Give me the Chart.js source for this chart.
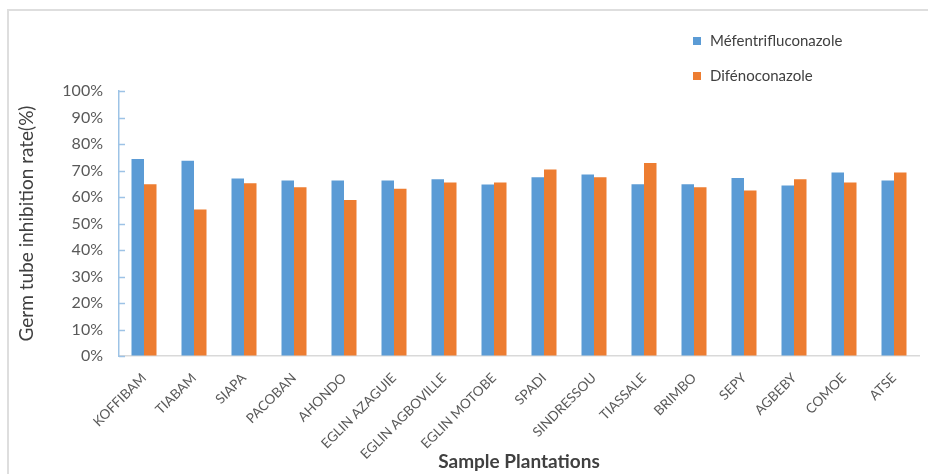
<!DOCTYPE html>
<html>
<head>
<meta charset="utf-8">
<script src="https://cdn.jsdelivr.net/npm/chart.js@4"></script>
<style>
  body { margin: 0; background: #fff; }
  #wrap { width: 928px; height: 474px; }
</style>
</head>
<body>
<div id="wrap"><canvas id="chart" width="928" height="474"></canvas></div>
<script>
const plantations = ["KOFFIBAM", "TIABAM", "SIAPA", "PACOBAN", "AHONDO", "EGLIN AZAGUIE",
    "EGLIN AGBOVILLE", "EGLIN MOTOBE", "SPADI", "SINDRESSOU", "TIASSALE", "BRIMBO",
    "SEPY", "AGBEBY", "COMOE", "ATSE"];
const mefentrifluconazole = [74.3, 73.7, 67.0, 66.2, 66.2, 66.2, 66.7, 64.7, 67.5, 68.5, 64.8, 64.8, 67.2, 64.3, 69.2, 66.2];
const difenoconazole = [64.8, 55.3, 65.2, 63.7, 58.9, 63.1, 65.5, 65.5, 70.4, 67.5, 72.8, 63.7, 62.5, 66.7, 65.5, 69.2];
const yTicks = [0, 10, 20, 30, 40, 50, 60, 70, 80, 90, 100];

const FONT = "Lato, 'Open Sans', sans-serif";

// outer frame + legend on the right + small inner y tick marks
const decorations = {
    id: "decorations",
    beforeDraw(chart) {
        const ctx = chart.ctx;
        ctx.save();
        ctx.strokeStyle = "#dedede";
        ctx.lineWidth = 2;
        ctx.beginPath();
        ctx.moveTo(8, 474);
        ctx.lineTo(8, 10);
        ctx.lineTo(928, 10);
        ctx.stroke();
        ctx.restore();
    },
    afterDraw(chart) {
        const ctx = chart.ctx;
        const y = chart.scales.y;
        ctx.save();
        ctx.strokeStyle = "#9dc3e6";
        ctx.lineWidth = 1.5;
        y.ticks.forEach((t) => {
            const py = Math.round(y.getPixelForValue(t.value)) + 0.5;
            ctx.beginPath();
            ctx.moveTo(y.right, py);
            ctx.lineTo(y.right + 6, py);
            ctx.stroke();
        });

        ctx.font = "15px " + FONT;
        ctx.textBaseline = "middle";
        chart.data.datasets.forEach((ds, i) => {
            const cy = 41 + i * 35;
            ctx.fillStyle = ds.backgroundColor;
            ctx.fillRect(693, cy - 4, 8, 8);
            ctx.fillStyle = "#404040";
            ctx.fillText(ds.label, 710, cy);
        });
        ctx.restore();
    }
};

new Chart(document.getElementById("chart"), {
    type: "bar",
    data: {
        labels: plantations,
        datasets: [
            { label: "Méfentrifluconazole", data: mefentrifluconazole, backgroundColor: "#5b9bd5" },
            { label: "Difénoconazole", data: difenoconazole, backgroundColor: "#ed7d31" }
        ]
    },
    options: {
        responsive: false,
        animation: false,
        layout: { padding: { left: 0, right: 9, top: 91, bottom: 0 } },
        datasets: { bar: { categoryPercentage: 0.5, barPercentage: 1.0 } },
        plugins: { legend: { display: false }, tooltip: { enabled: false } },
        scales: {
            x: {
                grid: { drawOnChartArea: false, drawTicks: false },
                border: { color: "#d9d9d9", width: 1.5 },
                ticks: {
                    color: "#595959",
                    font: { family: FONT, size: 13.5 },
                    minRotation: 45,
                    maxRotation: 45,
                    autoSkip: false,
                    padding: 14
                },
                title: {
                    display: true,
                    text: "Sample Plantations",
                    color: "#404040",
                    font: { family: FONT, size: 19, weight: "bold" },
                    padding: { top: 0, bottom: 1 }
                },
                afterFit(scale) { scale.height = 118; }
            },
            y: {
                min: 0,
                max: 100,
                afterBuildTicks(scale) { scale.ticks = yTicks.map((v) => ({ value: v })); },
                grid: { drawOnChartArea: false, drawTicks: false },
                border: { color: "#9dc3e6", width: 1.5 },
                ticks: {
                    color: "#595959",
                    font: { family: FONT, size: 16 },
                    padding: 16,
                    callback: (v) => v + "%"
                },
                title: {
                    display: true,
                    text: "Germ tube inhibition rate(%)",
                    color: "#404040",
                    font: { family: FONT, size: 19 },
                    padding: { top: 15, bottom: 0 }
                },
                afterFit(scale) { scale.width = 119; }
            }
        }
    },
    plugins: [decorations]
});
</script>
</body>
</html>
